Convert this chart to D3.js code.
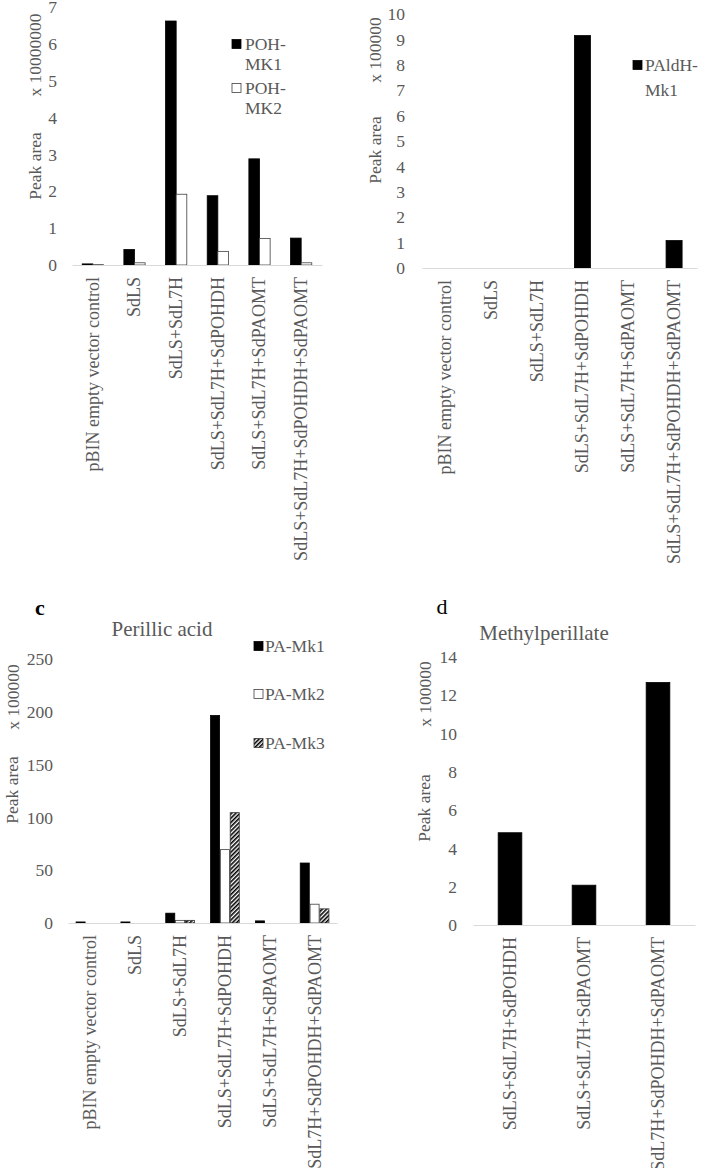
<!DOCTYPE html>
<html><head><meta charset="utf-8">
<script src="https://cdn.jsdelivr.net/npm/d3@7"></script>
<style>
body{margin:0;background:#fff;}
svg{display:block;font-family:"Liberation Serif","Times New Roman",serif;}
</style></head>
<body><svg id="c" width="703" height="1168"></svg>
<script>
// ---------- DATA ----------
const catsAll = ["pBIN empty vector control","SdLS","SdLS+SdL7H","SdLS+SdL7H+SdPOHDH","SdLS+SdL7H+SdPAOMT","SdLS+SdL7H+SdPOHDH+SdPAOMT"];
const catsD = ["SdLS+SdL7H+SdPOHDH","SdLS+SdL7H+SdPAOMT","SdLS+SdL7H+SdPOHDH+SdPAOMT"];

const pohMK1 = [0.03, 0.42, 6.62, 1.88, 2.88, 0.73];
const pohMK2 = [0.01, 0.06, 1.92, 0.37, 0.72, 0.06];
const paldhMk1 = [0, 0, 0, 9.15, 0, 1.08];
const paMk1 = [1, 1, 9.3, 196.5, 2, 56.8];
const paMk2 = [0, 0, 2.5, 69.5, 0, 17.8];
const paMk3 = [0, 0, 2.5, 104.5, 0, 13.4];
const mpMk1 = [4.82, 2.08, 12.67];

const ticksA = [0,1,2,3,4,5,6,7];
const ticksB = [0,1,2,3,4,5,6,7,8,9,10];
const ticksC = [0,50,100,150,200,250];
const ticksD = [0,2,4,6,8,10,12,14];

// ---------- DRAW ----------
const svg = d3.select("#c");
const GRAY = "#595959";
const defs = svg.append("defs");
const pat = defs.append("pattern").attr("id","hatch").attr("patternUnits","userSpaceOnUse")
  .attr("width",3).attr("height",3).attr("patternTransform","rotate(45)");
pat.append("rect").attr("width",3).attr("height",3).attr("fill","#fff");
pat.append("rect").attr("width",1.6).attr("height",3).attr("fill","#000");

const styles = {
  black:{fill:"#000", stroke:"#000"},
  white:{fill:"#fff", stroke:"#404040"},
  hatch:{fill:"url(#hatch)", stroke:"#333"}
};

function panel(cfg){
  const g = svg.append("g");
  const y = d3.scaleLinear().domain([0,cfg.max]).range([cfg.y0, cfg.yTop]);
  const x0 = d3.scaleBand().domain(cfg.cats).range([cfg.left, cfg.right]).padding(0);
  const bw = x0.bandwidth();
  const names = cfg.series.map(s=>s.name);
  const x1 = d3.scaleBand().domain(names)
     .range([bw*(1-cfg.frac)/2, bw*(1+cfg.frac)/2]).paddingInner(cfg.inner||0);

  // y axis
  const ya = g.append("g").attr("transform",`translate(${cfg.left},0)`)
    .call(d3.axisLeft(y).tickValues(cfg.ticks).tickSize(0).tickPadding(cfg.tickPad).tickFormat(d3.format("d")));
  ya.select(".domain").remove();
  ya.selectAll("text").attr("fill",GRAY).style("font-family","Liberation Serif").style("font-size","17.5px");

  // bars
  cfg.series.forEach(s=>{
    g.append("g").selectAll("rect").data(s.values).join("rect")
      .attr("x",(d,i)=>x0(cfg.cats[i])+x1(s.name))
      .attr("width",x1.bandwidth())
      .attr("y",d=>y(d))
      .attr("height",d=>cfg.y0-y(d))
      .attr("fill",styles[s.style].fill)
      .attr("stroke",d=>d>0?styles[s.style].stroke:"none")
      .attr("stroke-width",0.8);
  });

  // x axis
  const xa = g.append("g").attr("transform",`translate(0,${cfg.y0})`)
    .call(d3.axisBottom(x0).tickSize(0).tickPadding(0));
  xa.select(".domain").attr("stroke","#d9d9d9").attr("stroke-width",1.2);
  xa.selectAll("text").attr("fill",GRAY).style("font-family","Liberation Serif").style("font-size","18px")
    .attr("text-anchor","end").attr("transform","rotate(-90)")
    .attr("x",-12).attr("y",0).attr("dy","0.33em");

  // y titles
  cfg.ytitles.forEach(t=>{
    g.append("text").attr("transform",`translate(${t.x},${t.y}) rotate(-90)`)
      .attr("text-anchor","middle").attr("dy","0.35em")
      .attr("fill",GRAY).style("font-size","17.5px").text(t.text);
  });

  // legend
  cfg.legend.forEach(l=>{
    g.append("rect").attr("x",l.sx).attr("y",l.sy-4.5).attr("width",9).attr("height",9)
      .attr("fill",styles[l.style].fill).attr("stroke",styles[l.style].stroke).attr("stroke-width",0.8);
    l.lines.forEach((ln,k)=>{
      g.append("text").attr("x",l.tx).attr("y",l.ty[k]).attr("dy","0.35em")
        .attr("fill",GRAY).style("font-size","17.5px").text(ln);
    });
  });

  if(cfg.title){
    g.append("text").attr("x",cfg.title.x).attr("y",cfg.title.y).attr("dy","0.35em")
      .attr("text-anchor","middle").attr("fill",GRAY).style("font-size","21px").text(cfg.title.text);
  }
  if(cfg.letter){
    g.append("text").attr("x",cfg.letter.x).attr("y",cfg.letter.y).attr("dy","0.35em")
      .attr("text-anchor","middle").attr("fill","#000").style("font-size","22px")
      .style("font-weight",cfg.letter.bold?"bold":"normal").text(cfg.letter.text);
  }
}

panel({
  cats:catsAll, max:7, ticks:ticksA, left:72, right:322, y0:265, yTop:7, frac:0.51, tickPad:15,
  series:[{name:"POH-MK1",values:pohMK1,style:"black"},{name:"POH-MK2",values:pohMK2,style:"white"}],
  ytitles:[{x:35,y:166,text:"Peak area"},{x:35,y:55,text:"x 10000000"}],
  legend:[{style:"black",sx:232,sy:44,tx:245,ty:[44,64],lines:["POH-","MK1"]},
          {style:"white",sx:232,sy:88,tx:245,ty:[88,108],lines:["POH-","MK2"]}]
});

panel({
  cats:catsAll, max:10, ticks:ticksB, left:422, right:697, y0:268, yTop:14, frac:0.35, tickPad:17,
  series:[{name:"PAldH-Mk1",values:paldhMk1,style:"black"}],
  ytitles:[{x:375,y:150,text:"Peak area"},{x:375,y:50,text:"x 100000"}],
  legend:[{style:"black",sx:633,sy:65,tx:645,ty:[65,90],lines:["PAldH-","Mk1"]}]
});

panel({
  cats:catsAll, max:250, ticks:ticksC, left:68, right:337, y0:923, yTop:659, frac:0.64, inner:0.08, tickPad:15,
  series:[{name:"PA-Mk1",values:paMk1,style:"black"},{name:"PA-Mk2",values:paMk2,style:"white"},{name:"PA-Mk3",values:paMk3,style:"hatch"}],
  ytitles:[{x:12,y:790,text:"Peak area"},{x:13,y:697,text:"x 100000"}],
  legend:[{style:"black",sx:254,sy:646,tx:265,ty:[646],lines:["PA-Mk1"]},
          {style:"white",sx:254,sy:694,tx:265,ty:[694],lines:["PA-Mk2"]},
          {style:"hatch",sx:254,sy:743,tx:265,ty:[743],lines:["PA-Mk3"]}],
  title:{x:162,y:629,text:"Perillic acid"},
  letter:{x:40,y:607,text:"c",bold:true}
});

panel({
  cats:catsD, max:14, ticks:ticksD, left:473, right:695, y0:925, yTop:657, frac:0.32, tickPad:16,
  series:[{name:"Mk1",values:mpMk1,style:"black"}],
  ytitles:[{x:424,y:808,text:"Peak area"},{x:425,y:694,text:"x 100000"}],
  legend:[],
  title:{x:544,y:633,text:"Methylperillate"},
  letter:{x:442,y:606,text:"d",bold:false}
});
</script></body></html>
